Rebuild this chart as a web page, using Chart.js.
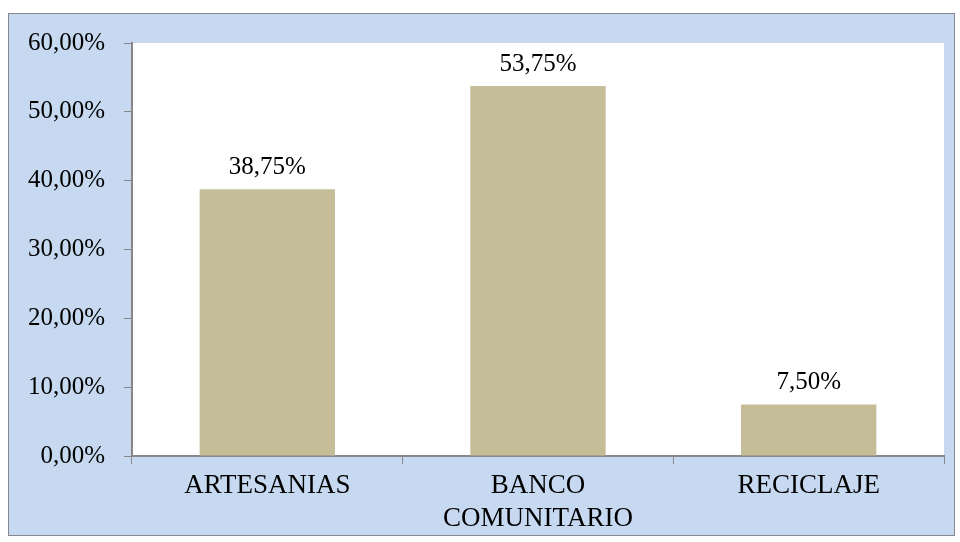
<!DOCTYPE html>
<html lang="es">
<head>
<meta charset="UTF-8" />
<title>Gráfico de barras</title>
<script src="https://cdn.jsdelivr.net/npm/chart.js"></script>
<style>
  * { margin: 0; padding: 0; box-sizing: border-box; }
  body { background: #fff; width: 960px; height: 542px; overflow: hidden; }
  .box {
    position: absolute; left: 8px; top: 13px;
    width: 947px; height: 523px;
    background: #C6D9F1;
    border: 1px solid #878787;
  }
  canvas { display: block; }
</style>
</head>
<body>
<div class="box"><canvas id="chart" width="945" height="521"></canvas></div>
<script>
const categories = [["ARTESANIAS"], ["BANCO", "COMUNITARIO"], ["RECICLAJE"]];
const values = [38.75, 53.75, 7.5];
const yMax = 60;
const yStep = 10;

const fmt = v => v.toFixed(2).replace(".", ",") + "%";

// fondo blanco del área de trazado
const plotBg = {
  id: "plotBg",
  beforeDraw(chart) {
    const a = chart.chartArea, ctx = chart.ctx;
    ctx.save();
    ctx.fillStyle = "#fff";
    ctx.fillRect(a.left, a.top, a.right - a.left, a.bottom - a.top);
    ctx.restore();
  }
};

// etiquetas de valor encima de cada barra
const valueLabels = {
  id: "valueLabels",
  afterDatasetsDraw(chart) {
    const ctx = chart.ctx;
    const meta = chart.getDatasetMeta(0);
    ctx.save();
    ctx.font = "25px 'Liberation Serif'";
    ctx.fillStyle = "#000";
    ctx.textAlign = "center";
    ctx.textBaseline = "alphabetic";
    meta.data.forEach((bar, i) => {
      ctx.fillText(fmt(values[i]), bar.x, bar.y - 15);
    });
    ctx.restore();
  }
};

new Chart(document.getElementById("chart"), {
  type: "bar",
  data: {
    labels: categories,
    datasets: [{
      data: values,
      backgroundColor: "#C4BD97",
      barPercentage: 1,
      categoryPercentage: 0.5
    }]
  },
  options: {
    responsive: false,
    animation: false,
    layout: { padding: { top: 29, right: 10, left: 0, bottom: 0 } },
    plugins: { legend: { display: false }, tooltip: { enabled: false } },
    scales: {
      x: {
        grid: { drawOnChartArea: false, drawTicks: true, tickLength: 8, color: "#878787", offset: true },
        border: { display: true, color: "#878787", width: 2 },
        ticks: {
          color: "#000",
          font: { family: "'Liberation Serif'", size: 27, lineHeight: 1.2 },
          padding: 6,
          maxRotation: 0
        },
        afterFit(scale) { scale.height = 79; }
      },
      y: {
        min: 0, max: yMax,
        grid: { drawOnChartArea: false, drawTicks: true, tickLength: 8, color: "#878787" },
        border: { display: true, color: "#878787", width: 2 },
        ticks: {
          stepSize: yStep,
          color: "#000",
          font: { family: "'Liberation Serif'", size: 25 },
          padding: 19,
          callback: v => fmt(v)
        },
        afterFit(scale) {
          scale.width = 123;
          scale.paddingTop = 0;
          scale.paddingBottom = 0;
        }
      }
    }
  },
  plugins: [plotBg, valueLabels]
});
</script>
</body>
</html>
